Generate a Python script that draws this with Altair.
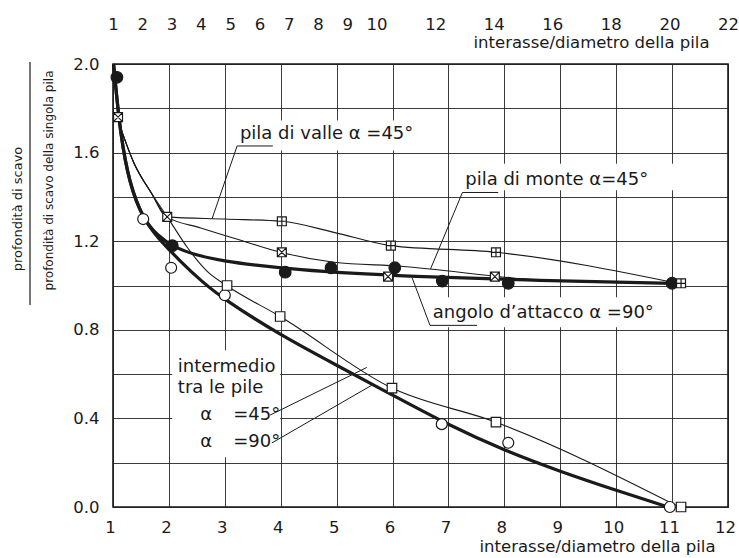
import altair as alt
import pandas as pd

FONT = "DejaVu Sans"
INK = "#1a1a1a"

# ---------------- data ----------------
# thick fitted curve: "angolo d'attacco alpha=90°" (filled circles)
att_x = [1.01, 1.04, 1.13, 1.29, 1.54, 1.8, 2.07, 2.5, 3.0, 3.5, 4.36, 5.26, 6.15, 8.66, 11.0]
att_y = [2.00, 1.92, 1.69, 1.46, 1.30, 1.225, 1.175, 1.135, 1.11, 1.093, 1.07, 1.055, 1.043, 1.022, 1.01]
# thick fitted curve: "intermedio tra le pile alpha=90°" (open circles)
i90_x = [1.01, 1.04, 1.13, 1.29, 1.54, 1.8, 2.2, 2.6, 3.0, 4.0, 5.0, 6.0, 7.0, 8.0, 9.0, 10.0, 10.93]
i90_y = [2.00, 1.92, 1.69, 1.46, 1.30, 1.215, 1.11, 1.015, 0.935, 0.775, 0.64, 0.505, 0.37, 0.255, 0.16, 0.075, 0.0]
# thin curve: "pila di monte alpha=45°"
mon_x = [1.07, 1.38, 1.68, 1.97, 2.57, 3.34, 4.0, 4.95, 6.15, 8.66, 11.0]
mon_y = [1.76, 1.55, 1.42, 1.31, 1.26, 1.20, 1.15, 1.105, 1.087, 1.024, 1.01]
# thin curve: "pila di valle alpha=45°"
val_x = [1.07, 1.38, 1.68, 1.97, 3.0, 4.02, 4.95, 5.97, 7.85, 11.1]
val_y = [1.76, 1.55, 1.42, 1.31, 1.30, 1.29, 1.24, 1.18, 1.15, 1.01]
# thin curve: "intermedio tra le pile alpha=45°"
i45_x = [1.07, 1.38, 1.68, 1.97, 2.34, 2.70, 3.03, 3.99, 5.99, 7.85, 11.13]
i45_y = [1.76, 1.55, 1.42, 1.31, 1.168, 1.06, 1.0, 0.86, 0.537, 0.383, 0.0]

# measured points
filled_x = [1.07, 2.06, 4.08, 4.9, 6.04, 6.89, 8.07, 11.0]
filled_y = [1.94, 1.18, 1.06, 1.08, 1.08, 1.02, 1.01, 1.01]
opencirc_x = [1.54, 2.04, 3.0, 6.88, 8.07, 10.96]
opencirc_y = [1.30, 1.08, 0.956, 0.374, 0.29, 0.0]
opensq_x = [3.04, 3.99, 5.99, 7.85, 11.16]
opensq_y = [1.0, 0.86, 0.537, 0.383, 0.0]
xsq_x = [1.09, 1.97, 4.02, 5.92, 7.83]
xsq_y = [1.76, 1.31, 1.15, 1.04, 1.04]
plussq_x = [4.02, 5.97, 7.85, 11.16]
plussq_y = [1.29, 1.18, 1.15, 1.01]

bottom_ticks = list(range(1, 13))
y_grid = [round(0.2 * i, 1) for i in range(11)]
top_ticks = [1, 2, 3, 4, 5, 6, 7, 8, 9, 10, 12, 14, 16, 18, 20, 22]

axis_title = "interasse/diametro della pila"
y_title_num = "profondità di scavo"
y_title_den = "profondità di scavo della singola pila"

# annotation texts (anchored in data units)
labels = pd.DataFrame({
    "t": ["pila  di  valle α =45°", "pila  di  monte α=45°", "angolo  d’attacco α =90°",
          "intermedio", "tra le pile", "α", "=45°", "α", "=90°"],
    "x": [3.27, 7.30, 6.72, 2.16, 2.16, 2.56, 3.15, 2.56, 3.15],
    "y": [1.66, 1.452, 0.852, 0.609, 0.514, 0.392, 0.392, 0.27, 0.27],
})
# white boxes behind the annotations
boxes = pd.DataFrame({
    "x": [3.15, 7.12, 6.63, 2.06],
    "x2": [6.71, 11.14, 10.9, 3.99],
    "y": [1.61, 1.43, 0.812, 0.225],
    "y2": [1.745, 1.55, 0.947, 0.708],
})
# leader lines
leaders = pd.DataFrame({
    "id": ["v", "v", "v", "m", "m", "m", "a", "a", "a", "i45", "i45", "i90", "i90"],
    "o": [0, 1, 2, 0, 1, 2, 0, 1, 2, 0, 1, 0, 1],
    "x": [3.86, 3.22, 2.77, 7.89, 7.25, 6.68, 7.51, 6.67, 6.35, 3.81, 5.54, 3.84, 5.63],
    "y": [1.63, 1.63, 1.30, 1.42, 1.42, 1.075, 0.82, 0.82, 1.035, 0.415, 0.63, 0.289, 0.55],
})

# ---------------- chart ----------------
XS = alt.Scale(domain=[1, 12], nice=False, zero=False)
YS = alt.Scale(domain=[0, 2], nice=False, zero=False)

AX = alt.Axis(
    values=bottom_ticks, grid=True, gridColor=INK, gridWidth=1, gridOpacity=0.85,
    ticks=False, tickSize=0, domain=False, labelFont=FONT, labelFontSize=16.5,
    labelColor=INK, labelPadding=25, labelBaseline="alphabetic", labelFlush=False,
    labelOffset=-3, format="d",
    title=axis_title, titleFont=FONT, titleFontSize=16.5, titleFontWeight="normal",
    titleColor=INK, titleAnchor="end", titleAlign="right", titleBaseline="alphabetic",
    titleX=602, titleY=44)
AY = alt.Axis(
    values=y_grid, grid=True, gridColor=INK, gridWidth=1, gridOpacity=0.85,
    ticks=False, tickSize=0, domain=False, labelFont=FONT, labelFontSize=16.5,
    labelColor=INK, labelPadding=14, labelFlush=False,
    labelExpr="round(datum.value*10) % 4 == 0 ? format(datum.value, '.1f') : ''",
    title=y_title_den, titleFont=FONT, titleFontSize=12, titleFontWeight="normal",
    titleColor=INK, titleAngle=270, titleAlign="center", titleBaseline="alphabetic",
    titleX=-61, titleY=116)


def xy(xs, ys):
    return pd.DataFrame({"x": xs, "y": ys})


def ex(field="x:Q"):
    return alt.X(field, scale=XS, axis=AX, title=axis_title)


def ey(field="y:Q"):
    return alt.Y(field, scale=YS, axis=AY, title=y_title_den)


box_layer = alt.Chart(boxes).mark_rect(fill="white").encode(
    x=ex(), x2="x2:Q", y=ey(), y2="y2:Q")

leader_layer = alt.Chart(leaders).mark_line(color=INK, strokeWidth=1).encode(
    x=ex(), y=ey(), detail="id:N", order="o:Q")


def curve(xs, ys, w, interp="monotone"):
    return alt.Chart(xy(xs, ys)).mark_line(color=INK, strokeWidth=w, interpolate=interp).encode(
        x=ex(), y=ey())


thin_val = curve(val_x, val_y, 1.1)
thin_mon = curve(mon_x, mon_y, 1.1)
thin_i45 = curve(i45_x, i45_y, 1.1)
thick_att = curve(att_x, att_y, 3.2, "basis")
thick_i90 = curve(i90_x, i90_y, 3.2, "basis")

XSQ = "M-1,-1L1,-1L1,1L-1,1Z M-1,-1L1,1 M1,-1L-1,1"
PSQ = "M-1,-1L1,-1L1,1L-1,1Z M0,-1L0,1 M-1,0L1,0"


def pts(xs, ys, shape, size, fill):
    return alt.Chart(xy(xs, ys)).mark_point(
        shape=shape, size=size, filled=True, fill=fill, stroke=INK, strokeWidth=1.2, opacity=1
    ).encode(x=ex(), y=ey())


p_filled = pts(filled_x, filled_y, "circle", 135, INK)
p_opencirc = pts(opencirc_x, opencirc_y, "circle", 120, "white")
p_opensq = pts(opensq_x, opensq_y, "square", 90, "white")
p_xsq = pts(xsq_x, xsq_y, XSQ, 80, "white")
p_psq = pts(plussq_x, plussq_y, PSQ, 80, "white")

text_layer = alt.Chart(labels).mark_text(
    align="left", baseline="alphabetic", font=FONT, fontSize=18, color=INK
).encode(x=ex(), y=ey(), text="t:N")

ynum = alt.Chart(pd.DataFrame({"t": [y_title_num]})).mark_text(
    angle=270, align="center", baseline="alphabetic", font=FONT, fontSize=13, color=INK
).encode(x=alt.value(-91), y=alt.value(145), text="t:N")

yrule = alt.Chart(pd.DataFrame({"t": [0]})).mark_rule(color=INK, strokeWidth=1.2).encode(
    x=alt.value(-83), y=alt.value(-2), y2=alt.value(241))

main = alt.layer(
    box_layer, leader_layer, thin_val, thin_mon, thin_i45,
    thick_att, thick_i90, p_filled, p_opencirc, p_opensq, p_xsq, p_psq,
    text_layer, ynum, yrule,
)

top_axis = alt.Chart(pd.DataFrame({"t": top_ticks})).mark_point(opacity=0).encode(
    x=alt.X("t:Q", scale=alt.Scale(domain=[1, 22], nice=False, zero=False), axis=alt.Axis(
        orient="top", values=top_ticks, grid=False, ticks=False, tickSize=0, domain=False,
        labelFont=FONT, labelFontSize=16.5, labelColor=INK, labelPadding=35,
        labelBaseline="alphabetic", labelFlush=False, format="d",
        title=axis_title, titleFont=FONT, titleFontSize=16.5, titleFontWeight="normal",
        titleColor=INK, titleAnchor="end", titleAlign="right", titleBaseline="alphabetic",
        titleX=596, titleY=-17))
)

chart = alt.layer(main, top_axis).resolve_scale(x="independent").properties(
    width=615, height=443,
    autosize=alt.AutoSizeParams(type="none"),
    padding={"left": 113, "top": 64, "right": 11, "bottom": 51},
    background="white",
).configure_view(stroke=INK, strokeWidth=1.6)

chart.save("out.html", embed_options={"renderer": "svg", "actions": False})
